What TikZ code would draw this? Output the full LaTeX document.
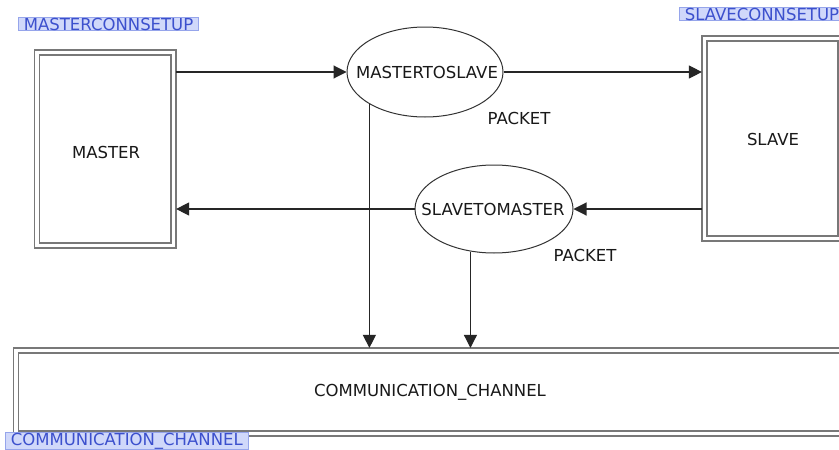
\documentclass[tikz,border=0pt]{standalone}
\usepackage{fontspec}
\setmainfont{DejaVu Sans}
\usetikzlibrary{shapes.geometric,arrows.meta}
\definecolor{tagfill}{RGB}{208,216,250}
\definecolor{tagline}{RGB}{150,165,235}
\definecolor{tagtext}{RGB}{60,80,205}
\definecolor{boxline}{RGB}{120,120,120}
\begin{document}
\begin{tikzpicture}[x=1pt,y=-1pt,
  every node/.style={font=\fontsize{16.5}{19}\selectfont, text=black!90},
  procbox/.style={draw=boxline, line width=1.5pt, double=white, double distance=3.6pt,
    rectangle, inner sep=0pt, outer sep=2.6pt},
  flow/.style={ellipse, draw=black!80, line width=1pt, inner sep=0pt},
  conn/.style={draw=black!85, line width=1.1pt, -{Triangle[length=13pt,width=13pt]}},
  tag/.style={fill=tagfill, draw=tagline, line width=0.8pt, text=tagtext,
    inner xsep=5.5pt, inner ysep=0.5pt, anchor=north west, rectangle}]
\clip (0,0) rectangle (839,450);
\fill[white] (0,0) rectangle (839,450);

% processes
\node[procbox, minimum width=136.5pt, minimum height=193pt] (master) at (105.25,149) {};
\node at (106,152) (mastertxt) {MASTER};
\node[procbox, minimum width=136pt, minimum height=200pt] (slave) at (772.5,138.5) {};
\node at (773,139) (slavetxt) {SLAVE};
\node[procbox, minimum width=829pt, minimum height=83pt] (chan) at (430.5,392) {};
\node at (430,392) (chantxt) {COMMUNICATION\_CHANNEL};

% data flows: outlines sized on their own, names set on top
\node[flow, minimum width=156pt, minimum height=90pt] (m2s) at (425,72) {};
\node at (427,72) (m2stxt) {MASTERTOSLAVE};
\node[flow, minimum width=158pt, minimum height=88pt] (s2m) at (494,209) {};
\node at (493,209) (s2mtxt) {SLAVETOMASTER};
\node at (519,118) (pk1) {PACKET};
\node at (585,255) (pk2) {PACKET};

% connectors
\draw[conn] (master.east |- m2s) -- (m2s.west);
\draw[conn] (m2s.east) -- (slave.west |- m2s);
\draw[conn] (slave.west |- s2m) -- (s2m.east);
\draw[conn] (s2m.west) -- (master.east |- s2m);
\draw[conn] (m2s.210) -- (m2s.210 |- chan.north);
\draw[conn] (s2m.241) -- (s2m.241 |- chan.north);

% setup tags
\node[tag] (mtag) at (18,17) {MASTERCONNSETUP};
\node[tag] (stag) at (679,7) {SLAVECONNSETUP};
\node[tag] (ctag) at (5,432) {COMMUNICATION\_CHANNEL};
\end{tikzpicture}
\end{document}
